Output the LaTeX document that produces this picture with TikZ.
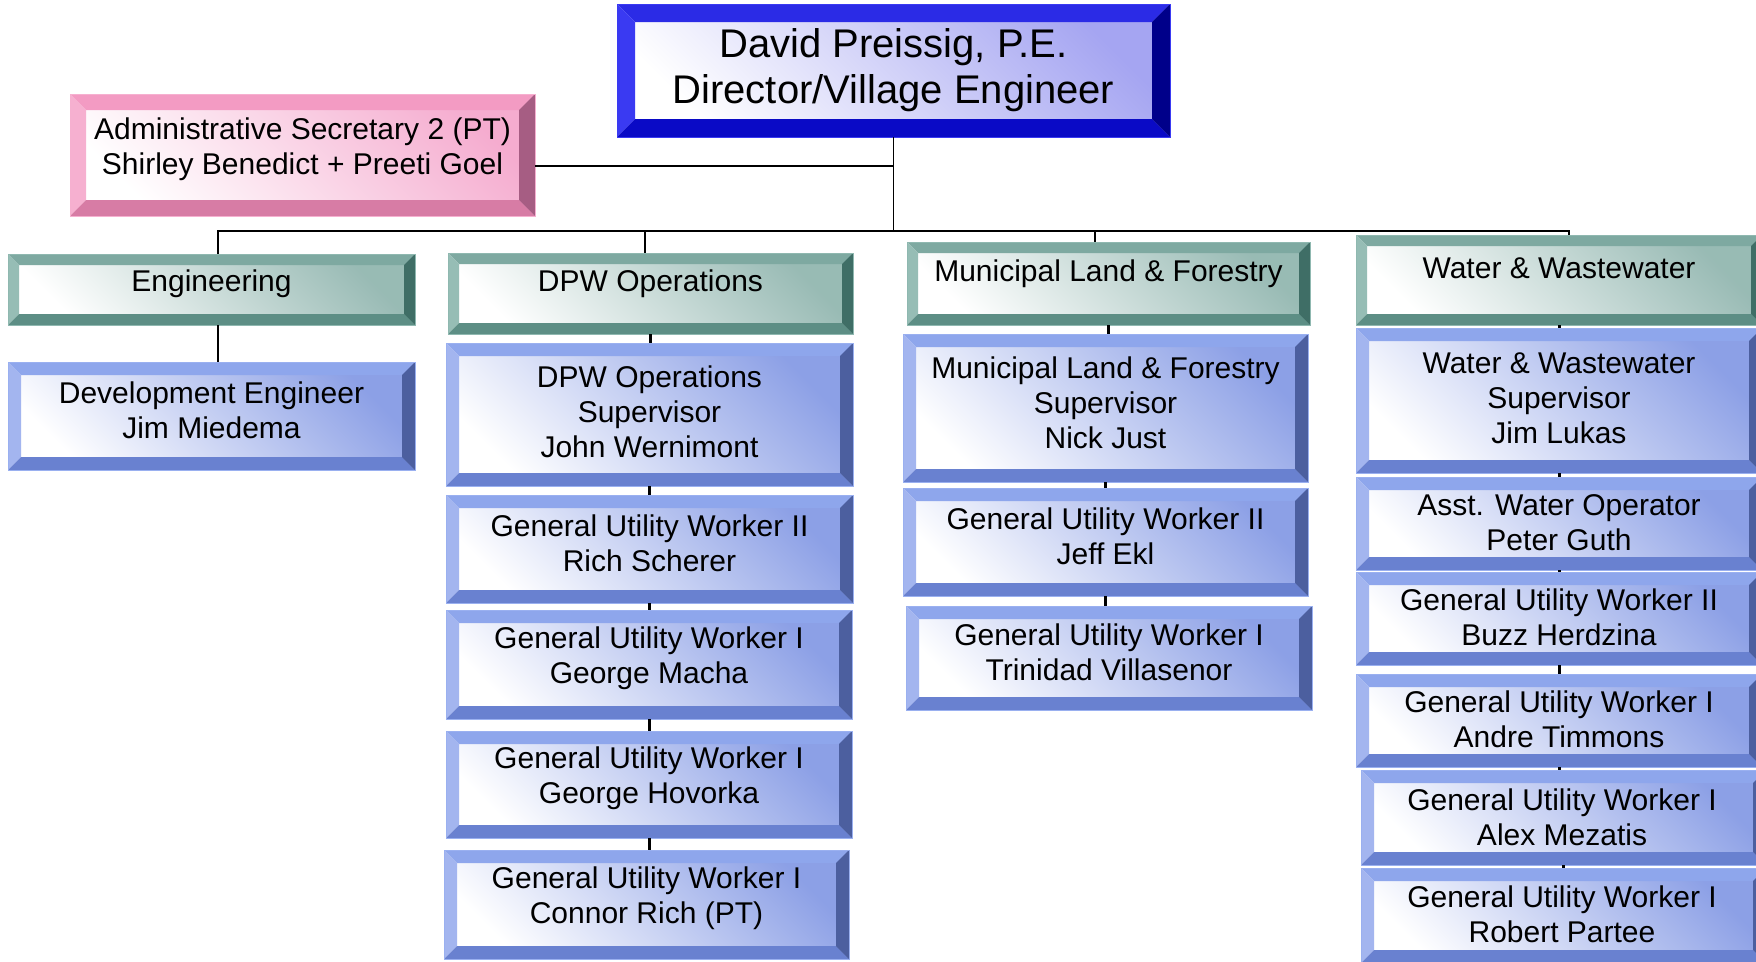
\documentclass[tikz,border=0pt]{standalone}
\usepackage{fontspec}
\setmainfont{Liberation Sans}
\usepackage{xcolor}
\definecolor{blueface}{HTML}{7F95E3}
\definecolor{bluetop}{HTML}{8EA6EC}
\definecolor{blueleft}{HTML}{A3B5EF}
\definecolor{bluebot}{HTML}{6981D0}
\definecolor{blueright}{HTML}{4C5F9F}
\definecolor{blueline}{HTML}{9AB0F0}
\definecolor{tealface}{HTML}{8DB3AC}
\definecolor{tealtop}{HTML}{7EA9A1}
\definecolor{tealleft}{HTML}{96BDB5}
\definecolor{tealbot}{HTML}{5D8E85}
\definecolor{tealright}{HTML}{3F6E66}
\definecolor{tealline}{HTML}{8FB8B0}
\definecolor{pinkface}{HTML}{F4A3CA}
\definecolor{pinktop}{HTML}{F39BC3}
\definecolor{pinkleft}{HTML}{F6B0D0}
\definecolor{pinkbot}{HTML}{D77CA5}
\definecolor{pinkright}{HTML}{A65D83}
\definecolor{dirface}{HTML}{9B9BF0}
\definecolor{dirtop}{HTML}{2B2BE6}
\definecolor{dirleft}{HTML}{3A3AF2}
\definecolor{dirbot}{HTML}{0A0AC6}
\definecolor{dirright}{HTML}{00008A}

\begin{document}
\begin{tikzpicture}[x=1pt, y=-1pt,
    bevel width/.store in=\bevw, bevel width=13pt,
    bevel/.style n args={5}{rectangle, inner sep=0pt,
      path picture={
        \path (path picture bounding box.south west) coordinate (bsw)
              (path picture bounding box.north east) coordinate (bne)
              (bsw -| bne) coordinate (bse)
              (bsw |- bne) coordinate (bnw);
        \shade[bottom color=white, middle color=#1!40!white, top color=#1!90!white, shading angle=-45] (bsw) rectangle (bne);
        \fill[#2] (bnw) -- (bne) -- ([shift={(-\bevw,-\bevw)}]bne) -- ([shift={(\bevw,-\bevw)}]bnw) -- cycle;
        \fill[#3] (bnw) -- ([shift={(\bevw,-\bevw)}]bnw) -- ([shift={(\bevw,\bevw)}]bsw) -- (bsw) -- cycle;
        \fill[#4] (bsw) -- ([shift={(\bevw,\bevw)}]bsw) -- ([shift={(-\bevw,\bevw)}]bse) -- (bse) -- cycle;
        \fill[#5] (bse) -- ([shift={(-\bevw,\bevw)}]bse) -- ([shift={(-\bevw,-\bevw)}]bne) -- (bne) -- cycle;
      }},
    staffbox/.style={bevel={blueface}{bluetop}{blueleft}{bluebot}{blueright}, bevel width=13pt, draw=blueline, line width=0.5pt},
    deptbox/.style={bevel={tealface}{tealtop}{tealleft}{tealbot}{tealright}, bevel width=11pt, draw=tealline, line width=0.5pt},
    secbox/.style={bevel={pinkface}{pinktop}{pinkleft}{pinkbot}{pinkright}, bevel width=16pt, draw=pinkleft, line width=0.5pt},
    chiefbox/.style={bevel={dirface}{dirtop}{dirleft}{dirbot}{dirright}, bevel width=18pt, draw=dirleft, line width=0.5pt},
    boxtext/.style={align=center, inner sep=0pt, font=\fontsize{30}{35}\selectfont},
    conn/.style={line width=1.8pt},
    stub/.style={line width=3pt}]
    \useasboundingbox (0,0) rectangle (1756,961);
    % Director and secretary
    \node[chiefbox, minimum width=553pt, minimum height=133pt, align=center, font=\fontsize{40}{46}\selectfont] (dir) at (893.5,70.5) {David Preissig, P.E.\\Director/Village Engineer};
    \node[secbox, minimum width=465pt, minimum height=122pt, label={[boxtext, yshift=6pt]center:Administrative Secretary 2 (PT)\\Shirley Benedict + Preeti Goel}] (sec) at (302.5,155) {};
    % Departments
    \node[deptbox, minimum width=407pt, minimum height=71pt, label={[boxtext, yshift=6pt]center:Engineering}] (eng) at (211.5,289.5) {};
    \node[deptbox, minimum width=405pt, minimum height=81pt, label={[boxtext, yshift=10pt]center:DPW Operations}] (dpw) at (650.5,293.5) {};
    \node[deptbox, minimum width=403pt, minimum height=83pt, label={[boxtext, yshift=10pt]center:Municipal Land \& Forestry}] (mlf) at (1108.5,283.5) {};
    \node[deptbox, minimum width=406pt, minimum height=90pt, label={[boxtext, yshift=11.5pt]center:Water \& Wastewater}] (ww) at (1559,280) {};
    % Engineering
    \node[staffbox, minimum width=407pt, minimum height=108pt, label={[boxtext, yshift=5.5pt]center:Development Engineer\\Jim Miedema}] (deveng) at (211.5,416) {};
    % DPW Operations
    \node[staffbox, minimum width=407pt, minimum height=143pt, label={[boxtext, yshift=2.5pt]center:DPW Operations\\Supervisor\\John Wernimont}] (dpwsup) at (649.5,414.5) {};
    \node[staffbox, minimum width=407pt, minimum height=108pt, label={[boxtext, yshift=6pt]center:General Utility Worker II\\Rich Scherer}] (rich) at (649.5,549) {};
    \node[staffbox, minimum width=406pt, minimum height=109pt, label={[boxtext, yshift=6.5pt]center:General Utility Worker I\\George Macha}] (macha) at (649,664.5) {};
    \node[staffbox, minimum width=406pt, minimum height=107pt, label={[boxtext, yshift=6.5pt]center:General Utility Worker I\\George Hovorka}] (hovorka) at (649,784.5) {};
    \node[staffbox, minimum width=405pt, minimum height=109pt, label={[boxtext, yshift=6.5pt]center:General Utility Worker I\\Connor Rich (PT)}] (connor) at (646.5,904.5) {};
    % Municipal Land & Forestry
    \node[staffbox, minimum width=405pt, minimum height=148pt, label={[boxtext, yshift=5pt]center:Municipal Land \& Forestry\\Supervisor\\Nick Just}] (mlfsup) at (1105.5,408) {};
    \node[staffbox, minimum width=405pt, minimum height=108pt, label={[boxtext, yshift=6pt]center:General Utility Worker II\\Jeff Ekl}] (ekl) at (1105.5,542) {};
    \node[staffbox, minimum width=406pt, minimum height=104pt, label={[boxtext, yshift=5.5pt]center:General Utility Worker I\\Trinidad Villasenor}] (trinidad) at (1109,658) {};
    % Water & Wastewater
    \node[staffbox, minimum width=406pt, minimum height=145pt, label={[boxtext, yshift=2pt]center:Water \& Wastewater\\Supervisor\\Jim Lukas}] (wwsup) at (1559,400.5) {};
    \node[staffbox, minimum width=406pt, minimum height=93pt, label={[boxtext, yshift=1pt]center:Asst. Water Operator\\Peter Guth}] (asst) at (1559,523.5) {};
    \node[staffbox, minimum width=406pt, minimum height=93pt, label={[boxtext, yshift=1pt]center:General Utility Worker II\\Buzz Herdzina}] (buzz) at (1559,618.5) {};
    \node[staffbox, minimum width=406pt, minimum height=93pt, label={[boxtext, yshift=1pt]center:General Utility Worker I\\Andre Timmons}] (andre) at (1559,720.5) {};
    \node[staffbox, minimum width=405pt, minimum height=95pt, label={[boxtext, xshift=-1.5pt]center:General Utility Worker I\\Alex Mezatis}] (alex) at (1563.5,817.5) {};
    \node[staffbox, minimum width=405pt, minimum height=95pt, label={[boxtext, xshift=-1.5pt, yshift=1pt]center:General Utility Worker I\\Robert Partee}] (robert) at (1563.5,915.5) {};
    % Connectors
    \coordinate (hub) at (dir.south |- 0,231);
    \path ([xshift=6.5pt]eng.north) coordinate (engtop)
          ([xshift=-5.5pt]dpw.north) coordinate (dpwtop)
          ([xshift=-13.5pt]mlf.north) coordinate (mlftop)
          ([xshift=10pt]ww.north) coordinate (wwtop);
    \draw[conn] (dir.south) -- (hub);
    \draw[conn] (sec.east |- 0,166) -- (dir.south |- 0,166);
    \draw[conn] (engtop) |- (wwtop |- hub) -- (wwtop);
    \draw[conn] (dpwtop) -- (dpwtop |- hub);
    \draw[conn] (mlftop) -- (mlftop |- hub);
    \draw[conn] ([xshift=6.5pt]eng.south) -- ([xshift=6.5pt]deveng.north);
    \foreach \a/\b in {dpw/dpwsup, dpwsup/rich, rich/macha, macha/hovorka, hovorka/connor,
                       mlf/mlfsup, mlfsup/ekl, ekl/trinidad,
                       ww/wwsup, wwsup/asst, asst/buzz, buzz/andre, andre/alex, alex/robert}
      \draw[stub] (\a.south) -- (\a.south |- \b.north);
\end{tikzpicture}
\end{document}
